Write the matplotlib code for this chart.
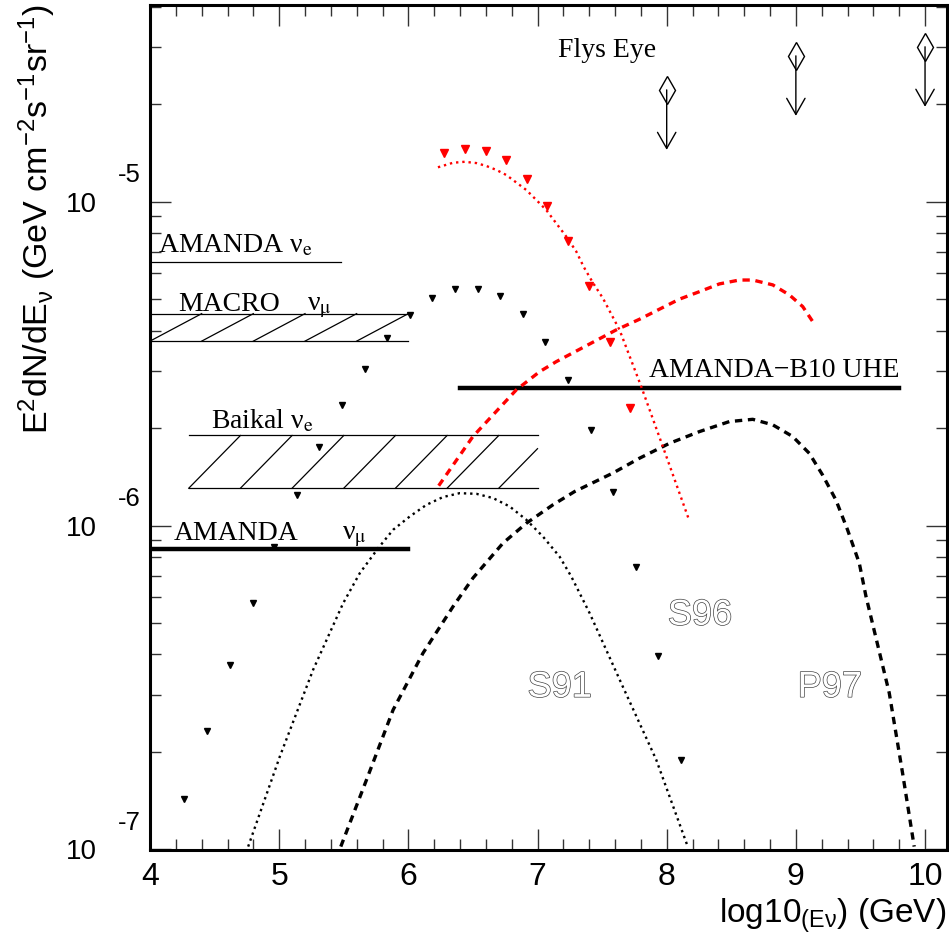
import numpy as np
import matplotlib
matplotlib.use('Agg')
import matplotlib.pyplot as plt
import matplotlib.patheffects as pe
from matplotlib.ticker import MultipleLocator, LogLocator, NullFormatter, FixedLocator

plt.rcParams['font.family'] = ['Liberation Sans', 'DejaVu Sans']
plt.rcParams['mathtext.fontset'] = 'custom'
plt.rcParams['mathtext.rm'] = 'Liberation Sans'
plt.rcParams['mathtext.it'] = 'Liberation Sans:italic'
plt.rcParams['mathtext.bf'] = 'Liberation Sans:bold'

# ---------------------------------------------------------------------------
# Data (x = log10 E, fluxes given as log10 of E^2 dN/dE)
# ---------------------------------------------------------------------------

# black triangles
pts_black_x = [4.265, 4.441, 4.616, 4.794, 4.961, 5.137, 5.309, 5.487, 5.663,
               5.831, 6.011, 6.186, 6.359, 6.537, 6.712, 6.885, 7.060, 7.238,
               7.411, 7.583, 7.759, 7.931, 8.109]
pts_black_ly = [-6.844, -6.633, -6.430, -6.239, -6.065, -5.905, -5.758, -5.628,
                -5.516, -5.422, -5.349, -5.297, -5.270, -5.270, -5.291, -5.346,
                -5.432, -5.550, -5.705, -5.896, -6.127, -6.404, -6.723]

# red triangles
pts_red_x = [6.276, 6.439, 6.599, 6.759, 6.918, 7.073, 7.235, 7.398, 7.558, 7.715]
pts_red_ly = [-4.849, -4.836, -4.843, -4.872, -4.929, -5.013, -5.120, -5.260,
              -5.432, -5.638]

# red dotted curve
red_dot_x = [6.229, 6.346, 6.436, 6.527, 6.604, 6.681, 6.759, 6.836, 6.913,
             6.991, 7.068, 7.145, 7.223, 7.300, 7.357, 7.428, 7.506, 7.635,
             7.803, 7.970, 8.168]
red_dot_ly = [-4.894, -4.880, -4.877, -4.881, -4.890, -4.902, -4.918, -4.941,
              -4.964, -4.995, -5.026, -5.067, -5.108, -5.154, -5.201, -5.250,
              -5.298, -5.396, -5.571, -5.756, -5.977]

# red dashed curve
red_dash_x = [6.235, 6.500, 6.836, 7.016, 7.145, 7.609, 7.790, 7.944, 8.099,
              8.253, 8.408, 8.563, 8.666, 8.821, 8.950, 9.053, 9.130]
red_dash_ly = [-5.877, -5.725, -5.581, -5.525, -5.494, -5.396, -5.363, -5.332,
               -5.301, -5.278, -5.254, -5.242, -5.242, -5.257, -5.288, -5.324,
               -5.370]

# S91 (black dotted)
s91_x = [4.760, 5.005, 5.263, 5.495, 5.624, 5.766, 5.882, 6.011, 6.140, 6.268,
         6.397, 6.527, 6.655, 6.784, 6.913, 7.042, 7.171, 7.261, 7.403, 7.660,
         7.919, 8.163]
s91_ly = [-6.991, -6.713, -6.445, -6.240, -6.147, -6.070, -6.013, -5.972,
          -5.936, -5.912, -5.900, -5.902, -5.915, -5.941, -5.982, -6.034,
          -6.096, -6.157, -6.270, -6.497, -6.723, -6.991]

# P97 (black dashed)
p97_x = [5.477, 5.676, 5.882, 6.113, 6.346, 6.500, 6.733, 6.913, 7.119, 7.287,
         7.583, 7.790, 8.022, 8.253, 8.485, 8.666, 8.821, 8.975, 9.104, 9.207,
         9.310, 9.400, 9.491, 9.543, 9.723, 9.826, 9.916]
p97_ly = [-6.991, -6.785, -6.569, -6.394, -6.250, -6.162, -6.054, -5.993,
          -5.936, -5.895, -5.838, -5.792, -5.746, -5.710, -5.679, -5.672,
          -5.689, -5.725, -5.777, -5.844, -5.921, -6.013, -6.116, -6.219,
          -6.517, -6.764, -6.991]

# Fly's Eye upper limits
flys_x = [8.0, 9.0, 10.0]
flys_ly = [-4.655, -4.550, -4.522]

# experimental limits: (x0, x1, flux)
amanda_nue = (4.0, 5.48, 6.53e-6)
amanda_numu = (4.0, 6.0, 8.45e-7)
amanda_uhe = (6.4, 9.8, 2.655e-6)
# hatched bands: (x0, x1, flux_low, flux_high)
macro_band = (4.0, 6.0, 3.71e-6, 4.51e-6)
baikal_band = (4.3, 7.0, 1.304e-6, 1.897e-6)


def flux(ly):
    return 10 ** np.asarray(ly)


def draw_band(ax, band, step=0.4):
    x0, x1, lo, hi = band
    ax.plot([x0, x1], [lo, lo], color='k', lw=0.9)
    ax.plot([x0, x1], [hi, hi], color='k', lw=0.9)
    llo, lhi = np.log10(lo), np.log10(hi)
    for xs in np.arange(x0, x1 - 1e-6, step):
        xe = min(xs + step, x1)
        ye = llo + (lhi - llo) * (xe - xs) / step
        ax.plot([xs, xe], [lo, 10 ** ye], color='k', lw=0.9)


# ---------------------------------------------------------------------------
# Plot
# ---------------------------------------------------------------------------

fig = plt.figure(figsize=(9.49, 9.44), dpi=100)
ax = fig.add_axes([150 / 949, 1 - 849.5 / 944, 797 / 949, 844.5 / 944])
ax.set_yscale('log')
ax.set_xlim(4, 10.17)
ax.set_ylim(1e-7, 10 ** -4.393)

for sp in ax.spines.values():
    sp.set_linewidth(2.2)

ax.xaxis.set_major_locator(MultipleLocator(1))
ax.xaxis.set_minor_locator(MultipleLocator(0.2))
ax.yaxis.set_major_locator(FixedLocator([1e-7, 1e-6, 1e-5]))
ax.yaxis.set_minor_locator(LogLocator(base=10, subs=np.arange(2, 10)))
ax.yaxis.set_minor_formatter(NullFormatter())
ax.set_yticks([1e-7, 1e-6, 1e-5], labels=['10', '10', '10'])
ax.tick_params(which='both', direction='in', top=True, right=True,
               width=1, color='#333333')
ax.tick_params(which='major', length=15, labelsize=23)
ax.tick_params(which='minor', length=8)
ax.tick_params(axis='x', which='major', pad=9)
ax.tick_params(axis='y', which='major', pad=38, labelsize=20)

for yv, lab in zip([1e-7, 1e-6, 1e-5], ['-7', '-6', '-5']):
    ax.annotate(lab, xy=(0, yv), xycoords=('axes fraction', 'data'),
                xytext=(-23, 19), textcoords='offset points',
                ha='left', va='center', fontsize=18.5, annotation_clip=False)

# limits
serif = dict(family='Liberation Serif', math_fontfamily='stix', fontsize=20)
ax.plot(amanda_nue[:2], [amanda_nue[2]] * 2, color='k', lw=0.9)
ax.plot(amanda_numu[:2], [amanda_numu[2]] * 2, color='k', lw=3.2)
ax.plot(amanda_uhe[:2], [amanda_uhe[2]] * 2, color='k', lw=3.2)
draw_band(ax, macro_band)
draw_band(ax, baikal_band)

ax.text(4.062, 6.95e-6, 'AMANDA ν$_{\\mathrm{e}}$', **serif)
ax.text(4.217, 4.60e-6, 'MACRO', **serif)
ax.text(5.214, 4.60e-6, 'ν$_{\\mathrm{\u03bc}}$', **serif)
ax.text(4.469, 2.00e-6, 'Baikal ν$_{\\mathrm{e}}$', **serif)
ax.text(4.180, 9.04e-7, 'AMANDA', **serif)
ax.text(5.483, 9.04e-7, 'ν$_{\\mathrm{\u03bc}}$', **serif)
ax.text(7.862, 2.88e-6, 'AMANDA\u2212B10 UHE', **serif)
ax.text(7.158, 2.80e-5, 'Flys Eye', family='Liberation Serif', fontsize=20)

# model curves
ax.plot(s91_x, flux(s91_ly), color='k', ls=':', lw=1.7)
ax.plot(p97_x, flux(p97_ly), color='k', ls=(0, (2.2, 1.7)), lw=2.4)
ax.plot(red_dot_x, flux(red_dot_ly), color='red', ls=':', lw=1.7)
ax.plot(red_dash_x, flux(red_dash_ly), color='red', ls=(0, (2.2, 1.7)), lw=2.4)

ax.plot(pts_black_x, flux(pts_black_ly), 'v', color='k', ms=5, ls='none')
ax.plot(pts_red_x, flux(pts_red_ly), 'v', color='red', ms=6, ls='none')

# Fly's Eye limits
ax.plot(flys_x, flux(flys_ly), 'd', ms=14.3, mfc='none', mec='k', mew=1, ls='none')
for fx, fy in zip(flys_x, flys_ly):
    ax.annotate('', xy=(fx, 10 ** (fy - 60 / 324)), xytext=(fx, 10 ** fy),
                arrowprops=dict(arrowstyle='->,head_length=0.58,head_width=0.33',
                                mutation_scale=20, lw=1, color='k',
                                shrinkA=0, shrinkB=0),
                annotation_clip=False)

outline = [pe.withStroke(linewidth=1.0, foreground='#444444')]
for tx, ty, lab in [(6.923, 2.96e-7, 'S91'), (8.009, 4.94e-7, 'S96'),
                    (9.014, 2.96e-7, 'P97')]:
    ax.text(tx, ty, lab, fontsize=26, color='white', path_effects=outline)

fig.text(37 / 949, 1 - 4 / 944,
         'E$^{\\mathrm{2}}$dN/dE$_{\\mathrm{ν}}$ (GeV cm$^{\\mathrm{-2}}$'
         's$^{\\mathrm{-1}}$sr$^{\\mathrm{-1}}$)',
         rotation=90, ha='center', va='top', fontsize=24.5)
fig.text(946 / 949, 1 - 916 / 944, 'log10$_{\\mathrm{(Eν}}$) (GeV)',
         ha='right', va='center', fontsize=24)

fig.savefig('out.png', dpi=100)
